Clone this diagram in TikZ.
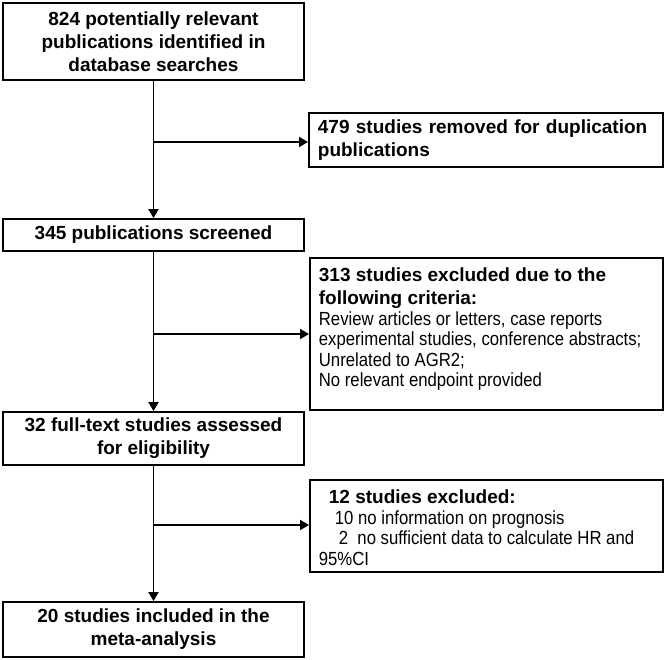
\documentclass[tikz,border=0pt]{standalone}
\usepackage{fontspec}
\setmainfont{Liberation Sans}
\newfontfamily\narrowfont[FakeStretch=0.88]{Liberation Sans}
\usetikzlibrary{arrows.meta}
\newcommand\bfnt{\bfseries\fontsize{19}{23}\selectfont}
\newcommand\nfnt{\narrowfont\mdseries\fontsize{19}{20.5}\selectfont}
\begin{document}
\begin{tikzpicture}[x=1pt,y=-1pt,
  box/.style={draw, line width=1.8pt, inner sep=0pt, font=\bfnt},
  cbox/.style={box, align=center, minimum width=301pt},
  lbox/.style={box, align=left, inner xsep=9pt, inner ysep=0pt, anchor=north west},
  arr/.style={-{Triangle[length=9pt,width=10pt]}, line width=1.8pt}]
\fill[white] (0,0) rectangle (666,660);
\useasboundingbox (0,0) rectangle (666,660);

\node[cbox, minimum height=77pt] (b1) at (153.5,41.5)
  {824 potentially relevant\\publications identified in\\database searches};
\node[lbox, minimum height=54pt, text width=336pt] (b2) at (308,112)
  {479 studies removed for duplication\\publications};
\node[cbox, minimum height=32pt] (b3) at (153.5,235)
  {345 publications screened};
\node[lbox] (b4) at (309,257)
  {\begin{minipage}[c][152pt][t]{335pt}\vspace*{10pt}\bfnt
   313 studies excluded due to the\par
   following criteria:\par
   \nfnt Review articles or letters, case reports\par
   experimental studies, conference abstracts;\par
   Unrelated to AGR2;\par
   No relevant endpoint provided\par
   \end{minipage}};
\node[cbox, minimum height=53pt] (b5) at (153.5,438.5)
  {32 full-text studies assessed\\for eligibility};
\node[lbox] (b6) at (309,479)
  {\begin{minipage}[c][92pt][t]{335pt}\vspace*{10pt}\bfnt
   \hspace*{10pt}12 studies excluded:\par
   \nfnt \hspace*{16pt}10 no information on prognosis\par
   \hspace*{20pt}2\ \ no sufficient data to calculate HR and\par
   95\%CI\par
   \end{minipage}};
\node[cbox, minimum height=55pt] (b7) at (153.5,629.5)
  {20 studies included in the\\meta-analysis};

\coordinate (j1) at (153.5,142);
\coordinate (j2) at (153.5,334);
\coordinate (j3) at (153.5,525);

\draw[arr] (b1.south) -- (b3.north);
\draw[arr] (b3.south) -- (b5.north);
\draw[arr] (b5.south) -- (b7.north);
\draw[arr] (j1) -- (j1 -| b2.west);
\draw[arr] (j2) -- (j2 -| b4.west);
\draw[arr] (j3) -- (j3 -| b6.west);
\end{tikzpicture}
\end{document}
